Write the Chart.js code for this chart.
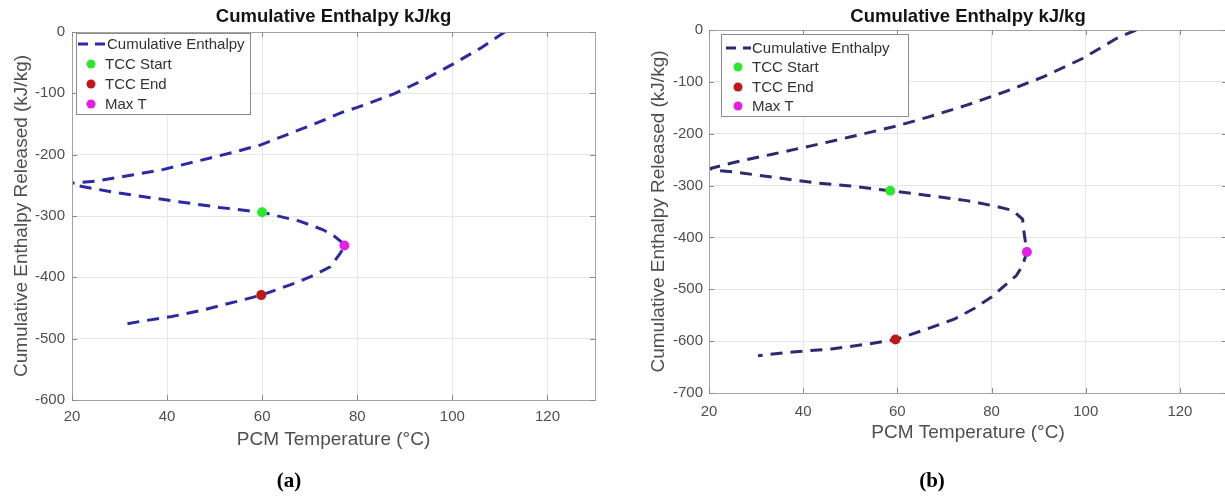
<!DOCTYPE html>
<html><head><meta charset="utf-8">
<script src="https://cdn.jsdelivr.net/npm/chart.js@4.4.1/dist/chart.umd.min.js"></script>
<style>
html,body{margin:0;padding:0;background:#fff;width:1225px;height:500px;overflow:hidden;position:relative}
#ca{position:absolute;left:0;top:0}
#cb{position:absolute;left:612px;top:0}
.cap{position:absolute;top:469px;font:bold 21px/22px "Liberation Serif",serif;color:#000;transform:translateX(-50%)}
</style></head><body>
<canvas id="ca" width="612" height="500"></canvas>
<canvas id="cb" width="620" height="500"></canvas>
<div class="cap" style="left:289px">(a)</div>
<div class="cap" style="left:932px">(b)</div>
<script>
// ---- data ----
const chartTitle = 'Cumulative Enthalpy kJ/kg';
const xAxisTitle = 'PCM Temperature (°C)';
const yAxisTitle = 'Cumulative Enthalpy Released (kJ/kg)';
const seriesLabels = ['Cumulative Enthalpy', 'TCC Start', 'TCC End', 'Max T'];

// panel (a)
const tempA = [111, 106, 100.2, 94, 87.7, 80, 76.8, 71, 65, 59.7, 54, 49.3, 44, 39.3, 32, 25.2, 19,
  20, 29.3, 40, 51, 60, 67.7, 72.7, 75.2, 76.8, 77.3, 76.4, 74.3, 70.2, 66, 59.8, 54.3, 47.7, 41, 34.3, 30];
const enthA = [0, -26, -52, -78, -101, -123, -131, -150, -168, -184, -196, -205, -215, -224, -234, -243, -247,
  -249, -262, -274, -286, -294, -308, -322, -333, -343, -350, -361, -383, -399, -412, -429, -440, -453, -464, -472, -478];
const markerTempA = [60, 59.8, 77.3];
const markerEnthA = [-294, -429, -348];

// panel (b)
const tempB = [110.7, 106.6, 99.3, 91.1, 82.9, 74.7, 66.5, 59.9, 50.1, 41.9, 33.7, 25.5, 20.3,
  21, 25.5, 33.7, 41.9, 50.1, 58.5, 66.5, 74.7, 80.4, 84.5, 86.6, 86.8, 87.1, 87.5, 86.6, 85.3, 82.9, 80, 76.3, 72.2, 66.5, 59.6, 54.2, 46, 37.8, 30.4];
const enthB = [0, -16, -55, -90, -119, -145, -168, -185, -206, -223, -239, -255, -267,
  -270, -274, -284, -294, -301, -310, -319, -329, -339, -348, -365, -384, -403, -428, -454, -473, -492, -515, -537, -557, -576, -597, -605, -615, -621, -628];
const markerTempB = [58.5, 59.6, 87.5];
const markerEnthB = [-310, -597, -428];

const xTickMin = 20, xTickMax = 130, xStep = 20;
const yMinA = -600, yMinB = -700, yStep = 100;

// ---- styling ----
const FONT = '"Liberation Sans", Arial, sans-serif';
const markerColors = ['#2ee62e', '#c0181a', '#e41ee4'];

const boxPlugin = {
  id: 'matlabBox',
  afterDatasetsDraw(chart) {
    const {ctx, chartArea: a, scales} = chart;
    ctx.save();
    ctx.strokeStyle = '#a3a3a3';
    ctx.lineWidth = 1;
    ctx.strokeRect(Math.round(a.left) + 0.5, Math.round(a.top) + 0.5, Math.round(a.right - a.left), Math.round(a.bottom - a.top));
    ctx.strokeStyle = '#8a8a8a';
    ctx.beginPath();
    scales.x.ticks.forEach(t => {
      const px = Math.round(scales.x.getPixelForValue(t.value)) + 0.5;
      ctx.moveTo(px, a.bottom); ctx.lineTo(px, a.bottom - 5);
      ctx.moveTo(px, a.top); ctx.lineTo(px, a.top + 5);
    });
    scales.y.ticks.forEach(t => {
      const py = Math.round(scales.y.getPixelForValue(t.value)) + 0.5;
      ctx.moveTo(a.left, py); ctx.lineTo(a.left + 5, py);
      ctx.moveTo(a.right, py); ctx.lineTo(a.right - 5, py);
    });
    ctx.stroke();
    ctx.restore();
  },
  afterDraw(chart) {
    const o = chart.options.plugins.matlabBox;
    if (!o) return;
    const ctx = chart.ctx;
    const ds = chart.data.datasets;
    ctx.save();
    ctx.fillStyle = '#fff';
    ctx.fillRect(o.box[0], o.box[1], o.box[2] - o.box[0], o.box[3] - o.box[1]);
    ctx.strokeStyle = '#8c8c8c';
    ctx.lineWidth = 1;
    ctx.strokeRect(o.box[0] + 0.5, o.box[1] + 0.5, o.box[2] - o.box[0], o.box[3] - o.box[1]);
    ctx.font = '15px ' + FONT;
    ctx.textBaseline = 'middle';
    ctx.textAlign = 'left';
    ds.forEach((d, i) => {
      const y = o.rows[i];
      if (i === 0) {
        ctx.strokeStyle = d.borderColor;
        ctx.lineWidth = 3;
        ctx.setLineDash([10, 7]);
        ctx.beginPath();
        ctx.moveTo(o.line[0], y); ctx.lineTo(o.line[1], y);
        ctx.stroke();
        ctx.setLineDash([]);
      } else {
        ctx.fillStyle = d.backgroundColor;
        ctx.beginPath();
        ctx.arc(o.sym, y, 4.5, 0, Math.PI * 2);
        ctx.fill();
      }
      ctx.fillStyle = '#333';
      ctx.fillText(d.label, i === 0 ? o.line[1] + 1 : o.text, y + 1);
    });
    ctx.restore();
  }
};

function build(id, temp, enth, mT, mE, yMin, p) {
  const datasets = [{
    label: seriesLabels[0],
    data: temp.map((t, i) => ({x: t, y: enth[i]})),
    showLine: true, borderColor: p.lineColor, borderWidth: 3, borderDash: [12, 8],
    pointRadius: 0, tension: 0, fill: false, order: 1
  }];
  mT.forEach((t, i) => datasets.push({
    label: seriesLabels[i + 1],
    data: [{x: t, y: mE[i]}],
    showLine: false, pointRadius: 5, pointBackgroundColor: markerColors[i],
    backgroundColor: markerColors[i], borderColor: markerColors[i], pointBorderWidth: 0, order: 0
  }));
  return new Chart(document.getElementById(id), {
    type: 'scatter',
    data: {datasets},
    plugins: [boxPlugin],
    options: {
      responsive: false, animation: false, devicePixelRatio: 1,
      layout: {padding: {left: 0, right: p.padR, top: 0, bottom: p.padB}},
      plugins: {
        legend: {display: false}, tooltip: {enabled: false},
        title: {display: true, text: chartTitle, fullSize: false, color: '#141414',
          font: {family: FONT, size: 18.5, weight: 'bold', lineHeight: '20px'},
          padding: {top: p.tTop, bottom: p.tBot}},
        matlabBox: p.legend
      },
      scales: {
        x: {
          type: 'linear', min: xTickMin, max: xTickMax,
          ticks: {stepSize: xStep, includeBounds: false, padding: p.xPad, color: '#4f4f4f', font: {family: FONT, size: 15}},
          grid: {color: '#e6e6e6', drawTicks: false}, border: {display: false},
          title: {display: true, text: xAxisTitle, color: '#4f4f4f', font: {family: FONT, size: 19}, padding: {top: 0, bottom: 1}},
          afterFit(s) { s.height = 52; }
        },
        y: {
          type: 'linear', min: yMin, max: 0,
          ticks: {stepSize: yStep, padding: p.yPad, color: '#4f4f4f', font: {family: FONT, size: 15}},
          grid: {color: '#e6e6e6', drawTicks: false}, border: {display: false},
          title: {display: true, text: yAxisTitle, color: '#4f4f4f', font: {family: FONT, size: 19}, padding: {top: p.yTitlePad, bottom: 0}},
          afterFit(s) { s.width = p.yW; }
        }
      }
    }
  });
}

build('ca', tempA, enthA, markerTempA, markerEnthA, yMinA, {
  lineColor: '#2a2aa6', padR: 17, padB: 48, tTop: 7, tBot: 5, xPad: 8, yPad: 7, yTitlePad: 10, yW: 72,
  legend: {box: [76, 33, 250, 114], rows: [44, 64, 84, 104], line: [78, 106], sym: 91, text: 105}
});
build('cb', tempB, enthB, markerTempB, markerEnthB, yMinB, {
  lineColor: '#2b2b72', padR: 4, padB: 55, tTop: 7, tBot: 3, xPad: 10, yPad: 6, yTitlePad: 35, yW: 97,
  legend: {box: [109, 34, 296, 116], rows: [48, 67, 87, 106], line: [114, 139], sym: 126, text: 140}
});
</script>
</body></html>
